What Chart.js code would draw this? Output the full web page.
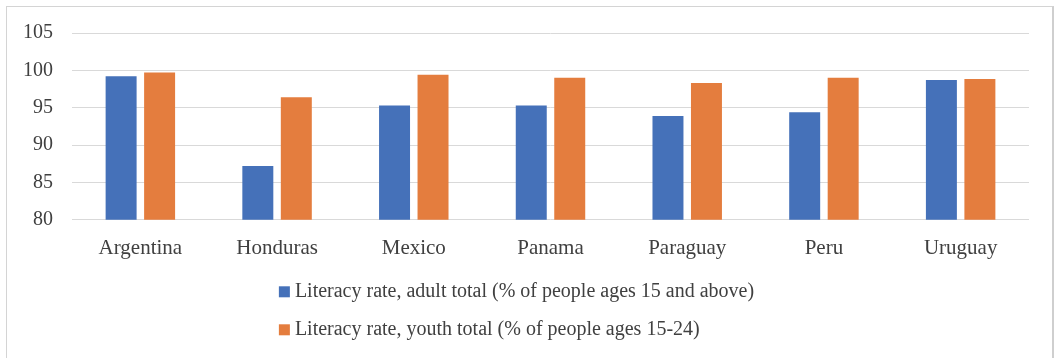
<!DOCTYPE html>
<html>
<head>
<meta charset="utf-8">
<script src="https://cdn.jsdelivr.net/npm/chart.js@4/dist/chart.umd.min.js"></script>
<style>
    body { margin: 0; background: #fff; }
    #wrap { position: relative; width: 1057px; height: 358px; overflow: hidden; }
    #frame { position: absolute; left: 6px; top: 6px; width: 1045px; height: 370px; border: 1px solid #d4d4d4; border-right: 2px solid #cfcfcf; }
    canvas { position: absolute; left: 0; top: 0; }
</style>
</head>
<body>
<div id="wrap">
    <div id="frame"></div>
    <canvas id="literacyChart" width="1057" height="358"></canvas>
</div>
<script>
    // Dados do grafico
    var countries = ['Argentina', 'Honduras', 'Mexico', 'Panama', 'Paraguay', 'Peru', 'Uruguay'];
    var adultRate = [99.2, 87.2, 95.3, 95.3, 93.9, 94.4, 98.7];
    var youthRate = [99.7, 96.4, 99.4, 99.0, 98.3, 99.0, 98.85];
    var seriesLabels = [
        'Literacy rate, adult total (% of people ages 15 and above)',
        'Literacy rate, youth total (% of people ages 15-24)'
    ];
    var yTicks = [80, 85, 90, 95, 100, 105];

    var fontFamily = '"Liberation Serif", "Times New Roman", serif';
    var textColor = '#404040';

    // Legenda em duas linhas, alinhada a esquerda
    var stackedLegend = {
        id: 'stackedLegend',
        afterDraw: function (chart) {
            var ctx = chart.ctx;
            var sets = chart.data.datasets;
            ctx.save();
            ctx.font = '20px ' + fontFamily;
            ctx.textBaseline = 'middle';
            ctx.fillStyle = textColor;
            var maxW = 0;
            sets.forEach(function (ds) {
                maxW = Math.max(maxW, ctx.measureText(ds.label).width);
            });
            var blockW = 16 + maxW;
            var left = chart.width / 2 - 12 - blockW / 2;
            var top = chart.chartArea.bottom + 72;
            sets.forEach(function (ds, i) {
                var y = top + i * 38;
                ctx.fillStyle = ds.backgroundColor;
                ctx.fillRect(left, y - 5.5, 11, 11);
                ctx.fillStyle = textColor;
                ctx.fillText(ds.label, left + 16, y);
            });
            ctx.restore();
        }
    };

    var ctx = document.getElementById('literacyChart').getContext('2d');
    var myChart = new Chart(ctx, {
        type: 'bar',
        data: {
            labels: countries,
            datasets: [{
                label: seriesLabels[0],
                data: adultRate,
                backgroundColor: '#4571B9',
                borderWidth: 0
            }, {
                label: seriesLabels[1],
                data: youthRate,
                backgroundColor: '#E47D3E',
                borderWidth: 0
            }]
        },
        options: {
            responsive: false,
            animation: false,
            layout: {
                padding: { top: 33, right: 28, bottom: 81, left: 0 }
            },
            plugins: {
                legend: { display: false },
                tooltip: { enabled: false }
            },
            datasets: {
                bar: {
                    categoryPercentage: 0.563,
                    barPercentage: 0.805
                }
            },
            scales: {
                x: {
                    grid: { display: false, drawTicks: false },
                    border: { display: false },
                    ticks: {
                        color: textColor,
                        padding: 16,
                        font: { family: fontFamily, size: 21 }
                    }
                },
                y: {
                    min: 80,
                    max: 105,
                    afterFit: function (scale) { scale.width = 72; },
                    afterBuildTicks: function (scale) {
                        scale.ticks = yTicks.map(function (v) { return { value: v }; });
                    },
                    grid: { color: '#d9d9d9', lineWidth: 1, drawTicks: false },
                    border: { display: false },
                    ticks: {
                        color: textColor,
                        padding: 19,
                        font: { family: fontFamily, size: 20 }
                    }
                }
            }
        },
        plugins: [stackedLegend]
    });
</script>
</body>
</html>
